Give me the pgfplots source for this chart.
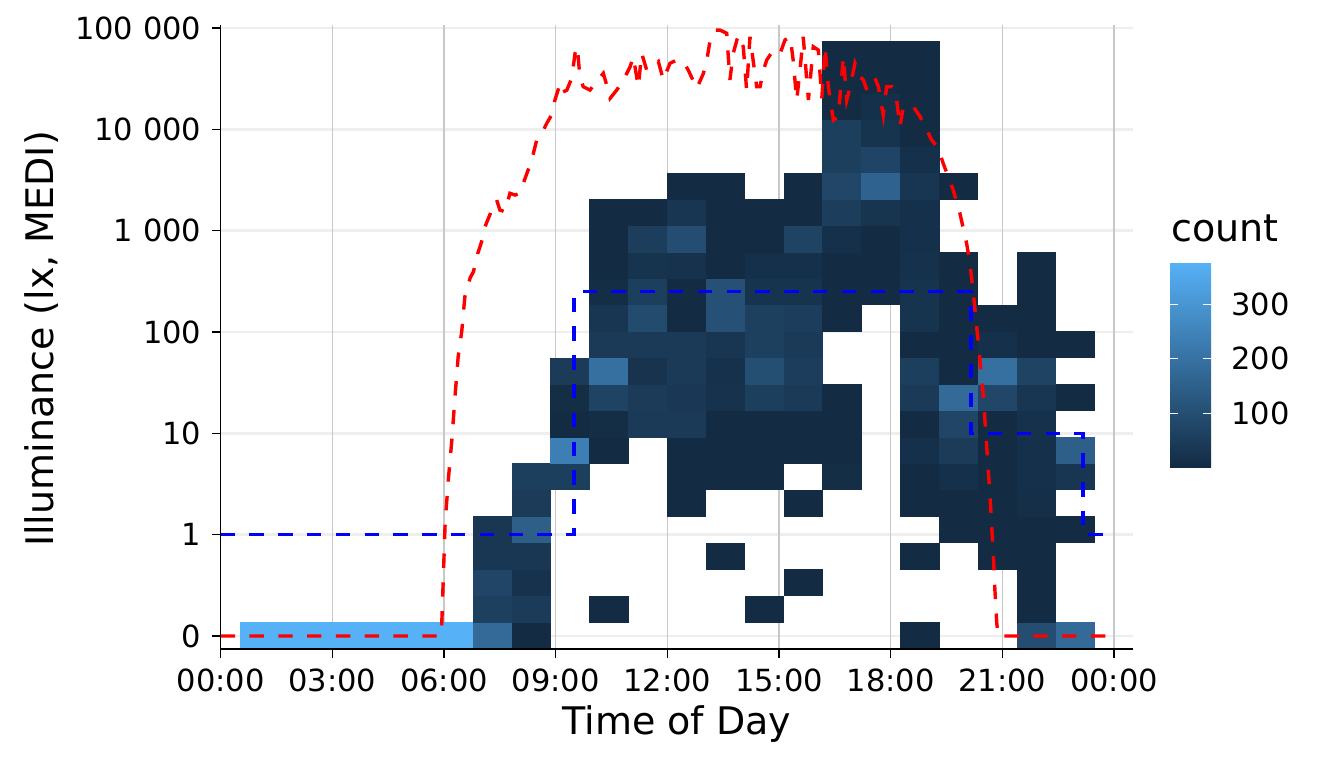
\documentclass[border=0pt]{standalone}
\usepackage{fontspec}
\setmainfont{DejaVu Sans}
\usepackage{pgfplots}
\usepackage{pgfplotstable}
\pgfplotsset{compat=1.18}
\usetikzlibrary{calc}
\newcommand\ticksize{\fontsize{15.25}{18}\selectfont}
\newcommand\titlesize{\fontsize{19}{23}\selectfont}
\pgfdeclareplotmark{tile}{\pgfpathrectangle{\pgfpoint{-9.86pt}{-6.76pt}}{\pgfpoint{19.72pt}{13.52pt}}\pgfusepathqfill}
\definecolor{gridh}{RGB}{238,238,238}
\definecolor{gridv}{RGB}{200,200,200}
\pgfplotstableread{
c k n
0 0 376
1 0 376
2 0 378
3 0 376
4 0 377
5 0 376
6 0 178
6 1 60
6 2 74
6 3 33
6 4 33
7 0 3
7 1 46
7 2 20
7 3 33
7 4 147
7 5 46
7 6 58
8 6 58
8 7 237
8 8 3
8 9 8
8 10 46
9 1 3
9 7 3
9 8 8
9 9 68
9 10 195
9 11 43
9 12 30
9 13 8
9 14 3
9 15 3
9 16 3
10 8 43
10 9 46
10 10 24
10 11 43
10 12 90
10 13 58
10 14 26
10 15 52
10 16 3
11 5 3
11 6 3
11 7 3
11 8 43
11 9 38
11 10 43
11 11 43
11 12 3
11 13 3
11 14 20
11 15 96
11 16 30
11 17 3
12 3 3
12 6 3
12 7 3
12 8 3
12 9 20
12 10 18
12 11 30
12 12 105
12 13 105
12 14 3
12 15 3
12 16 3
12 17 3
13 1 3
13 6 3
13 7 3
13 8 3
13 9 58
13 10 100
13 11 60
13 12 60
13 13 26
13 14 15
13 15 3
13 16 3
14 2 3
14 5 3
14 7 3
14 8 3
14 9 43
14 10 52
14 11 43
14 12 52
14 13 26
14 14 15
14 15 68
14 16 3
14 17 3
15 6 8
15 7 3
15 8 3
15 9 3
15 12 3
15 13 3
15 14 3
15 15 15
15 16 52
15 17 77
15 18 58
15 19 58
15 20 3
15 21 3
15 22 3
16 13 3
16 14 3
16 15 3
16 16 28
16 17 156
16 18 71
16 19 26
16 20 15
16 21 3
16 22 3
17 0 3
17 3 3
17 5 3
17 6 3
17 7 15
17 8 3
17 9 43
17 10 58
17 11 3
17 12 26
17 13 26
17 14 18
17 15 15
17 16 15
17 17 30
17 18 15
17 19 3
17 20 3
17 21 3
17 22 3
18 4 3
18 5 3
18 6 15
18 7 46
18 8 74
18 9 178
18 10 3
18 11 3
18 12 3
18 13 3
18 14 3
18 17 3
19 3 3
19 4 3
19 5 3
19 6 3
19 7 3
19 8 3
19 9 77
19 10 195
19 11 15
19 12 3
20 0 96
20 1 3
20 2 3
20 3 3
20 4 3
20 5 12
20 6 15
20 7 15
20 8 18
20 9 30
20 10 68
20 11 3
20 12 3
20 13 3
20 14 3
21 0 178
21 4 3
21 6 30
21 7 147
21 9 3
21 11 3
}\tiles
\pgfplotstableread{
x y
0 1
9.49 1
9.49 3.398
20.16 3.398
20.16 2
23.17 2
23.17 1
24 1
}\blueline
\pgfplotstableread{
x y
0 0
5.905 0
5.94 0.128
6.03 1.115
6.115 1.54
6.21 1.934
6.295 2.362
6.38 2.756
6.475 3.003
6.56 3.348
6.70 3.533
6.79 3.595
6.91 3.780
7.01 3.891
7.10 4.039
7.32 4.237
7.415 4.303
7.50 4.204
7.64 4.187
7.77 4.369
7.91 4.352
8.04 4.369
8.13 4.468
8.26 4.599
8.355 4.697
8.49 4.895
8.605 4.944
8.76 5.060
8.89 5.142
8.98 5.290
9.12 5.454
9.20 5.369
9.30 5.388
9.43 5.504
9.52 5.750
9.58 5.816
9.65 5.520
9.74 5.421
9.92 5.388
10.10 5.470
10.28 5.553
10.37 5.438
10.46 5.306
10.64 5.388
10.82 5.487
11.00 5.618
11.085 5.717
11.22 5.421
11.31 5.750
11.445 5.586
11.62 5.618
11.76 5.668
11.89 5.487
12.07 5.652
12.25 5.684
12.43 5.668
12.56 5.586
12.79 5.405
12.97 5.553
13.06 5.684
13.15 5.882
13.28 5.980
13.415 5.980
13.595 5.948
13.68 5.487
13.77 5.750
13.905 5.931
14.04 5.816
14.13 5.388
14.22 5.914
14.40 5.421
14.49 5.421
14.58 5.586
14.67 5.684
14.85 5.783
15.03 5.750
15.16 5.882
15.30 5.914
15.38 5.684
15.475 5.290
15.565 5.586
15.65 5.914
15.79 5.290
15.92 5.816
16.055 5.783
16.15 5.306
16.235 5.816
16.325 5.421
16.46 5.092
16.59 5.125
16.73 5.717
16.82 5.290
16.91 5.421
17.04 5.652
17.18 5.520
17.265 5.487
17.36 5.388
17.58 5.504
17.67 5.421
17.80 5.142
17.89 5.421
18.03 5.421
18.16 5.290
18.25 5.026
18.34 5.224
18.47 5.224
18.61 5.224
18.79 5.125
18.97 4.994
19.10 4.895
19.28 4.813
19.41 4.665
19.68 4.401
19.86 4.171
20.04 3.875
20.13 3.678
20.22 3.382
20.31 3.052
20.355 2.892
20.49 2.362
20.58 1.868
20.67 1.375
20.76 0.783
20.80 0.454
20.85 0.125
20.89 0
23.97 0
}\redline
\begin{document}
\begin{tikzpicture}
\useasboundingbox (-110.35pt,-59.5pt) rectangle ++(672pt,384pt);
\begin{axis}[
  at={(0pt,0pt)}, anchor=south west,
  scale only axis, width=456.15pt, height=312pt,
  xmin=0, xmax=24.51, ymin=-0.1283, ymax=6.03,
  axis on top,
  clip marker paths=true,
  axis lines*=left, axis line style={-, line width=0.6pt},
  tick align=outside, major tick length=4.5pt,
  tick style={black, line width=0.6pt},
  xtick={0,3,6,9,12,15,18,21,24},
  xticklabels={00:00,03:00,06:00,09:00,12:00,15:00,18:00,21:00,00:00},
  ytick={0,1,2,3,4,5,6},
  yticklabels={0,1,10,100,{1 000},{10 000},{100 000}},
  xticklabel style={font=\ticksize, inner sep=0pt, anchor=north},
  yticklabel style={font=\ticksize, inner sep=0pt, anchor=east},
  xticklabel shift=5.15pt, yticklabel shift=5pt,
  colormap={gg}{rgb255=(19,43,67) rgb255=(86,177,247)},
  point meta min=1, point meta max=378,
  colorbar,
  colorbar shift/.style={xshift=0pt},
  colorbar/width=20.5pt,
  colorbar style={
    at={($(parent axis.south west)+(474.65pt,193.5pt)$)}, anchor=north west,
    scale only axis, width=20.5pt, height=102.5pt,
    axis on top,
    ytick={100,200,300}, yticklabels={100,200,300},
    yticklabel pos=right, ytick pos=both,
    yticklabel style={font=\ticksize, inner sep=0pt, anchor=west},
    yticklabel shift=10pt,
    tick align=inside, major tick length=4pt,
    tick style={draw=white, line width=0.6pt},
    major tick style={draw=white, line width=0.6pt},
    axis line style={draw=none},
  },
]
\pgfplotsinvokeforeach{0,1,2,3,4,5,6}{
  \draw[gridh, line width=1.4pt] (axis cs:0,#1) -- (axis cs:24.51,#1);
}
\pgfplotsinvokeforeach{3,6,9,12,15,18,21,24}{
  \draw[gridv, line width=0.65pt] (axis cs:#1,-0.1283) -- (axis cs:#1,6.03);
}
\addplot[scatter, only marks, mark=tile, point meta=explicit,
  scatter/use mapped color={draw=none, fill=mapped color}]
  table[x expr={1.035+1.0441*\thisrow{c}}, y expr={0.005+0.26083*\thisrow{k}}, meta=n] {\tiles};
\addplot[blue, mark=none, line width=1.7pt, dash pattern=on 7.2pt off 7.2pt] table {\blueline};
\addplot[red, mark=none, line width=1.7pt, dash pattern=on 7.2pt off 7.2pt] table {\redline};
\end{axis}
\node[anchor=base, inner sep=0pt, font=\titlesize] at (228.15pt,-42.5pt) {Time of Day};
\node[anchor=base, rotate=90, inner sep=0pt, font=\titlesize] at (-83.35pt,155pt) {Illuminance (lx, MEDI)};
\node[anchor=base west, inner sep=0pt, font=\titlesize] at (475.15pt,204pt) {count};
\end{tikzpicture}
\end{document}
